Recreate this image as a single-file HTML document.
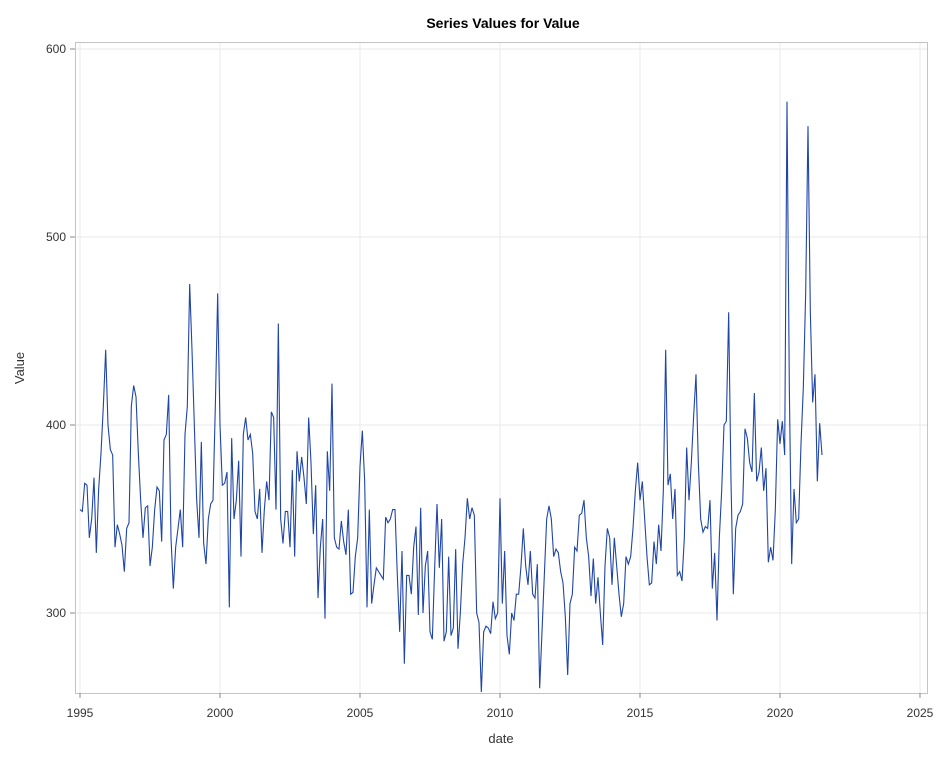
<!DOCTYPE html>
<html><head><meta charset="utf-8"><style>
body{margin:0;background:#fff;font-family:"Liberation Sans",Arial,sans-serif}
svg text{font-family:"Liberation Sans",Arial,sans-serif}
</style></head><body>
<svg id="chart" width="946" height="759" viewBox="0 0 946 759" xmlns="http://www.w3.org/2000/svg">
<rect width="946" height="759" fill="#fff"/>
<text x="503" y="28" text-anchor="middle" font-size="14" font-weight="bold">Series Values for Value</text>
<g id="grid"></g>
<rect x="75.5" y="42.5" width="852" height="651" fill="none" stroke="#c4c4c4"/>
<g id="ticks"></g>
<path id="series" fill="none" stroke="#1f45a8" stroke-width="1.1"/>
<text x="0" y="0" transform="translate(24,368) rotate(-90)" text-anchor="middle" font-size="13" fill="#333">Value</text>
<text x="501" y="743" text-anchor="middle" font-size="13" fill="#333">date</text>
</svg>
<script>
const startYear = 1995;
const values = [
355,354,369,368,340,350,372,332,366,385,410,440,
400,387,384,335,347,342,336,322,345,348,410,421,
415,385,360,340,356,357,325,335,355,367,365,338,
392,395,416,340,313,335,345,355,335,395,410,475,
440,400,360,340,391,337,326,350,358,360,410,470,
400,368,369,375,303,393,350,360,381,330,395,404,
392,395,385,354,350,366,332,355,370,360,407,404,
355,454,350,337,354,354,335,376,330,386,370,383,372,
358,404,380,342,368,308,335,350,297,386,365,422,
340,335,334,349,338,331,355,310,311,330,340,378,
397,370,303,355,305,315,324,322,320,318,351,348,
350,355,355,320,290,333,273,320,320,310,335,346,
299,356,300,325,333,290,286,324,358,324,350,285,
290,330,288,292,334,281,300,326,340,361,350,356,352,
300,295,258,290,293,292,289,306,297,300,361,305,
333,288,278,300,296,310,310,325,345,325,315,333,
310,308,326,260,290,320,350,357,350,330,334,332,
322,316,298,267,305,310,335,333,352,353,360,340,
330,309,329,305,319,300,283,325,345,340,315,340,
325,310,298,305,330,326,330,345,365,380,360,370,
350,330,315,316,338,326,347,333,365,440,368,374,
350,366,320,322,317,340,388,360,380,405,427,380,
350,343,346,345,360,313,332,296,340,365,400,402,
460,370,310,345,352,354,358,398,393,380,375,417,
370,375,388,365,377,327,335,328,355,403,390,402,
384,572,420,326,366,348,350,390,420,470,559,460,
412,427,370,401,384];
const xTicks = [1995,2000,2005,2010,2015,2020,2025];
const yTicks = [300,400,500,600];

const xs = t => 80 + (t - 1995) * 28;
const ys = v => 425 - (v - 400) * 1.88;
const NS = "http://www.w3.org/2000/svg";
const grid = document.getElementById('grid');
const ticks = document.getElementById('ticks');
function mk(tag, attrs, parent){const e=document.createElementNS(NS,tag);for(const k in attrs)e.setAttribute(k,attrs[k]);parent.appendChild(e);return e;}
xTicks.forEach(t=>{
  const x = xs(t);
  const g = mk('line',{x1:x,x2:x,y1:43,y2:693,stroke:'#e8e8e8'},grid);
  
  
  const tk = mk('line',{x1:x,x2:x,y1:693,y2:698,stroke:'#888'},ticks);
  
  
  const l = mk('text',{x:x,y:717,'text-anchor':'middle','font-size':'12',fill:'#333'},ticks);
  l.textContent = t;
  
  
});
yTicks.forEach(v=>{
  const y = ys(v);
  const g = mk('line',{x1:76,x2:927,y1:y,y2:y,stroke:'#e8e8e8'},grid);
  
  
  const tk = mk('line',{x1:70,x2:75,y1:y,y2:y,stroke:'#888'},ticks);
  
  
  const l = mk('text',{x:66,y:y+4,'text-anchor':'end','font-size':'12',fill:'#333'},ticks);
  l.textContent = v;
  
  
});
let d = '';
values.forEach((v,i)=>{ d += (i?'L':'M') + xs(startYear + i/12).toFixed(2) + ',' + ys(v).toFixed(2); });
document.getElementById('series').setAttribute('d', d);
</script>
</body></html>
